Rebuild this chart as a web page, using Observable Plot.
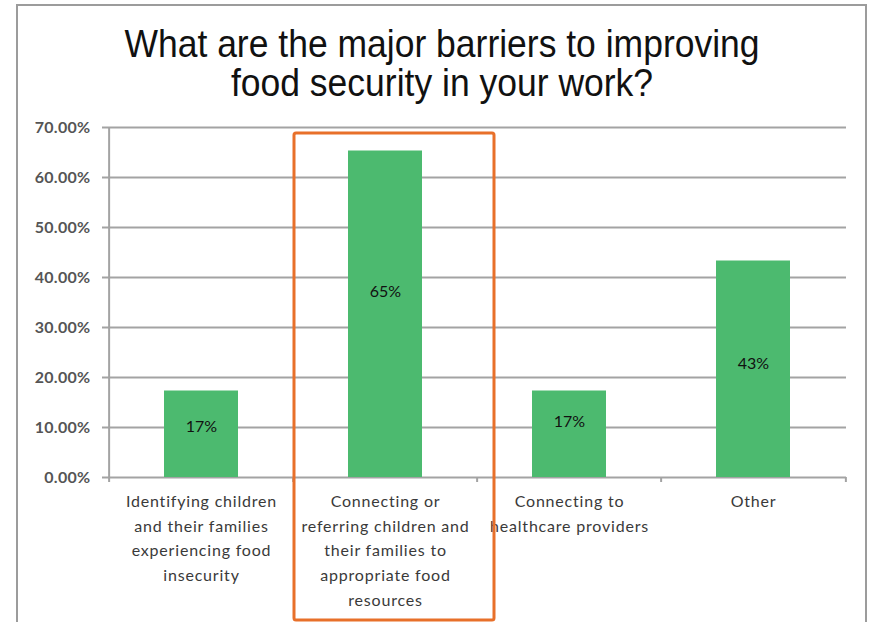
<!DOCTYPE html>
<html>
<head>
<meta charset="utf-8">
<script src="https://cdn.jsdelivr.net/npm/d3@7"></script>
<script src="https://cdn.jsdelivr.net/npm/@observablehq/plot@0.6"></script>
<style>
  html, body { margin: 0; padding: 0; background: #fff; }
  #wrap { position: relative; width: 871px; height: 622px; overflow: hidden; background: #fff; }
  #border { position: absolute; left: 16px; top: 4px; width: 851px; height: 700px; box-sizing: border-box; border: 2px solid #9c9c9c; }
  #title { position: absolute; left: 42px; width: 800px; top: 24px; text-align: center;
           font-family: "Liberation Sans", Arial, sans-serif; font-size: 39px; line-height: 39px; color: #111;
           transform: scaleX(0.91); transform-origin: 400px 0; }
  #chart { position: absolute; left: 0; top: 110px; }
  #chart g[aria-label="x-axis tick label"] { letter-spacing: 0.8px; }
  #chart g[aria-label="y-axis tick label"] { letter-spacing: 0.3px; }
</style>
</head>
<body>
<div id="wrap">
  <div id="border"></div>
  <div id="title">What are the major barriers to improving<br>food security in your work?</div>
  <div id="chart"></div>
</div>
<script>
// ---- data ----
const categories = [
  "Identifying children and their families experiencing food insecurity",
  "Connecting or referring children and their families to appropriate food resources",
  "Connecting to healthcare providers",
  "Other"
];
const categoryLabels = [
  "Identifying children\nand their families\nexperiencing food\ninsecurity",
  "Connecting or\nreferring children and\ntheir families to\nappropriate food\nresources",
  "Connecting to\nhealthcare providers",
  "Other"
];
const values = [17.3, 65.3, 17.3, 43.3];          // percent
const valueLabels = ["17%", "65%", "17%", "43%"];
const labelPositions = [10.1, 37.1, 11.1, 22.8];  // where each data label sits (percent units)
const yTicks = [0, 10, 20, 30, 40, 50, 60, 70];
const highlightCategory = categories[1];
const highlightTop = 68.8;
const highlightBottom = -28.6;

// ---- build ----
const data = categories.map((c, i) => ({cat: c, value: values[i], label: valueLabels[i], labelY: labelPositions[i]}));
const labelOf = new Map(categories.map((c, i) => [c, categoryLabels[i]]));

const width = 871, height = 512;
const marginLeft = 107, marginRight = 25, marginTop = 17, marginBottom = 145;
const padInner = 0.6, padOuter = 0.3;
const step = (width - marginLeft - marginRight) / (categories.length - padInner + 2 * padOuter);
const grey = "#a3a3a3";

const chart = Plot.plot({
  width, height, marginLeft, marginRight, marginTop, marginBottom,
  style: {fontFamily: "Lato, sans-serif", background: "transparent", overflow: "visible"},
  x: {type: "band", domain: categories, paddingInner: padInner, paddingOuter: padOuter, label: null},
  y: {domain: [0, 70], label: null},
  marks: [
    Plot.gridY(yTicks, {stroke: grey, strokeOpacity: 1, strokeWidth: 2}),
    Plot.ruleX([categories[0]], {y1: 0, y2: 70, dx: -step / 2, stroke: grey, strokeWidth: 2}),
    Plot.ruleX(categories, {y1: 0, y2: -1, dx: -step / 2, stroke: grey, strokeWidth: 2}),
    Plot.ruleX([categories[categories.length - 1]], {y1: 0, y2: -1, dx: step / 2, stroke: grey, strokeWidth: 2}),
    Plot.axisY({ticks: yTicks, tickFormat: d => d.toFixed(2) + "%", tickSize: 5, tickPadding: 12,
                stroke: grey, strokeWidth: 2, fontSize: 16, fontWeight: "bold", fill: "#555", label: null}),
    Plot.axisX({tickSize: 0, tickPadding: 12, tickFormat: d => labelOf.get(d), fontSize: 16,
                lineHeight: 1.54, fill: "#3a3a3a", label: null}),
    Plot.barY(data, {x: "cat", y: "value", fill: "#4cba6f"}),
    Plot.text(data, {x: "cat", y: "labelY", text: "label", fontSize: 16, fill: "#111"}),
    Plot.barY([highlightCategory], {x: d => d, y1: highlightTop, y2: highlightBottom, fill: "none",
               stroke: "#e8702a", strokeWidth: 3, insetLeft: -54, insetRight: -72, rx: 2})
  ]
});
document.getElementById("chart").appendChild(chart);
</script>
</body>
</html>
